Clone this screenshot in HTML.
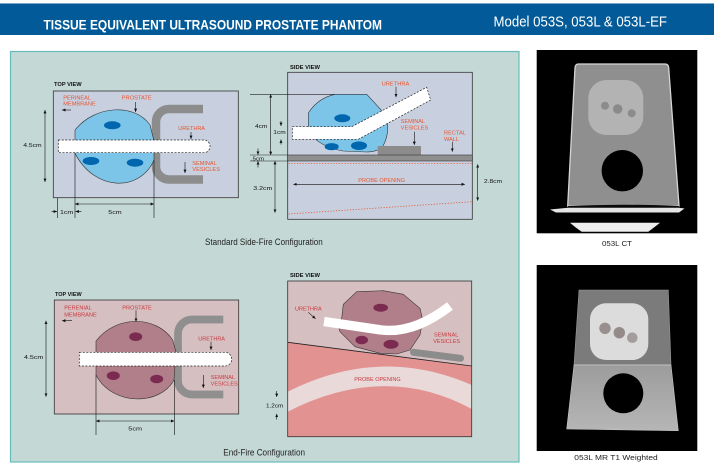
<!DOCTYPE html>
<html><head><meta charset="utf-8"><style>
html,body{margin:0;padding:0;background:#fff;}
svg{display:block;}
text{font-family:"Liberation Sans",Arial,sans-serif;}
</style></head><body>
<svg width="721" height="471" viewBox="0 0 721 471" xmlns="http://www.w3.org/2000/svg">
<defs>
<marker id="a" viewBox="0 0 6 6" refX="6" refY="3" markerWidth="3.4" markerHeight="3.4" orient="auto-start-reverse" markerUnits="userSpaceOnUse"><path d="M0,0.3 L6,3 L0,5.7 Z" fill="#111"/></marker>
<linearGradient id="mrg" x1="0" y1="0" x2="0" y2="1"><stop offset="0" stop-color="#9c9c9c"/><stop offset="1" stop-color="#b6b6b6"/></linearGradient>
</defs>
<rect width="721" height="471" fill="#fff"/>
<!-- header -->
<rect x="0" y="3" width="714" height="1" fill="#7da6c6"/>
<rect x="0" y="4" width="714" height="31" fill="#025b98"/>
<text x="43.5" y="29.3" font-size="14" font-weight="bold" fill="#fff" textLength="338.5" lengthAdjust="spacingAndGlyphs">TISSUE EQUIVALENT ULTRASOUND PROSTATE PHANTOM</text>
<text x="493.5" y="26.7" font-size="14.5" fill="#fff" textLength="173.5" lengthAdjust="spacingAndGlyphs">Model 053S, 053L &amp; 053L-EF</text>
<!-- panel -->
<rect x="10.5" y="51.5" width="508.5" height="410.5" fill="#c4d9d5" stroke="#66bcbc" stroke-width="1.2"/>

<!-- ===== TOP LEFT ===== -->
<text x="54" y="86.2" font-size="5.3" font-weight="bold" fill="#111" textLength="27.7" lengthAdjust="spacingAndGlyphs">TOP VIEW</text>
<rect x="53.3" y="91" width="185" height="106.7" fill="#c8d0e0" stroke="#333" stroke-width="0.8"/>
<path d="M203,109 H169 A13,13 0 0 0 156,122 V166.5 A13,13 0 0 0 169,179.5 H203" fill="none" stroke="#8c8c8c" stroke-width="8.5"/>
<path d="M75,130 C95,105 135,103 150,125 L154,141 L154,160 C140,192 95,192 75,153.3 Z" fill="#7cc5e8" stroke="#333" stroke-width="0.6"/>
<ellipse cx="112.3" cy="125.3" rx="8.3" ry="4" fill="#0066ad"/>
<ellipse cx="91" cy="161" rx="8.3" ry="4" fill="#0066ad"/>
<ellipse cx="135" cy="162.7" rx="8.3" ry="4" fill="#0066ad"/>
<path d="M58.3,140 H204 A6,6.35 0 0 1 204,152.7 H58.3 Z" fill="#fff" stroke="#222" stroke-width="0.7" stroke-dasharray="2,1.5"/>
<g fill="#e8542c" font-size="5.4">
<text x="63.3" y="99.3" textLength="27.7" lengthAdjust="spacingAndGlyphs">PERINEAL</text>
<text x="63.3" y="105.6" textLength="32.4" lengthAdjust="spacingAndGlyphs">MEMBRANE</text>
<text x="121.7" y="99.3" textLength="30" lengthAdjust="spacingAndGlyphs">PROSTATE</text>
<text x="178.3" y="130" textLength="26.7" lengthAdjust="spacingAndGlyphs">URETHRA</text>
<text x="192.3" y="165" textLength="24.4" lengthAdjust="spacingAndGlyphs">SEMINAL</text>
<text x="192.3" y="171.2" textLength="27.7" lengthAdjust="spacingAndGlyphs">VESICLES</text>
</g>
<g stroke="#111" stroke-width="0.6" fill="none">
<line x1="71" y1="110" x2="62" y2="110" marker-end="url(#a)"/>
<line x1="135.6" y1="102" x2="135.6" y2="112" marker-end="url(#a)"/>
<line x1="191" y1="132" x2="191" y2="139" marker-end="url(#a)"/>
<line x1="185" y1="162" x2="185" y2="173" marker-end="url(#a)"/>
<line x1="45" y1="110" x2="45" y2="182" marker-start="url(#a)" marker-end="url(#a)"/>
<line x1="57.3" y1="197.7" x2="57.3" y2="218"/>
<line x1="75" y1="153" x2="75" y2="218"/>
<line x1="154" y1="160" x2="154" y2="218"/>
<line x1="75" y1="204" x2="154" y2="204" marker-start="url(#a)" marker-end="url(#a)"/>
<line x1="51.5" y1="211.5" x2="57" y2="211.5" marker-end="url(#a)"/>
<line x1="81.5" y1="211.5" x2="75.5" y2="211.5" marker-end="url(#a)"/>
</g>
<g fill="#111" font-size="5.8">
<text x="23.3" y="147.2" textLength="18.4" lengthAdjust="spacingAndGlyphs">4.5cm</text>
<text x="60" y="213.8" textLength="13.3" lengthAdjust="spacingAndGlyphs">1cm</text>
<text x="108.3" y="213.8" textLength="13.4" lengthAdjust="spacingAndGlyphs">5cm</text>
</g>
<text x="205" y="245" font-size="9" fill="#222" textLength="117.7" lengthAdjust="spacingAndGlyphs">Standard Side-Fire Configuration</text>

<!-- ===== TOP RIGHT ===== -->
<text x="290" y="68.8" font-size="5.3" font-weight="bold" fill="#111" textLength="30" lengthAdjust="spacingAndGlyphs">SIDE VIEW</text>
<rect x="287.7" y="72.3" width="184.6" height="147" fill="#c8d0e0" stroke="#333" stroke-width="0.8"/>
<line x1="250" y1="94.3" x2="340" y2="94.3" stroke="#222" stroke-width="0.6"/>
<path d="M335,94.3 L366.7,94.3 L386.7,116 Q390,134 383,146 Q378,152 366,152 L343,151 Q320,147 308.3,132 L308.3,113 Q318,98 335,94.3 Z" fill="#7cc5e8" stroke="#333" stroke-width="0.6"/>
<ellipse cx="342.3" cy="118.3" rx="8" ry="4" fill="#0066ad"/>
<ellipse cx="331.7" cy="146.7" rx="7" ry="3.6" fill="#0066ad"/>
<ellipse cx="359" cy="145.7" rx="8" ry="4.3" fill="#0066ad"/>
<rect x="377.7" y="146" width="43.3" height="9" fill="#8c8c8c"/>
<polygon points="292.3,126.7 351.7,126.7 426.7,87.3 430.7,100 358.3,139.3 292.3,139.3" fill="#fff" stroke="#222" stroke-width="0.7" stroke-dasharray="2,1.5"/>
<rect x="287.7" y="155" width="184.6" height="6" fill="#8f8f8f" stroke="#333" stroke-width="0.6"/>
<g stroke="#222" stroke-width="0.6">
<line x1="250" y1="155" x2="288" y2="155"/>
<line x1="250" y1="161" x2="288" y2="161"/>
</g>
<line x1="288.5" y1="163.6" x2="472" y2="163.6" stroke="#e8542c" stroke-width="0.8" stroke-dasharray="1.2,1.6"/>
<line x1="288.5" y1="214" x2="472" y2="201.7" stroke="#e8542c" stroke-width="0.8" stroke-dasharray="1.2,1.6"/>
<g fill="#e8542c" font-size="5.4">
<text x="381.7" y="85.3" textLength="27.6" lengthAdjust="spacingAndGlyphs">URETHRA</text>
<text x="400.7" y="123" textLength="24.3" lengthAdjust="spacingAndGlyphs">SEMINAL</text>
<text x="400.7" y="129.7" textLength="27.6" lengthAdjust="spacingAndGlyphs">VESICLES</text>
<text x="444" y="134.7" textLength="22" lengthAdjust="spacingAndGlyphs">RECTAL</text>
<text x="444" y="140.9" textLength="15" lengthAdjust="spacingAndGlyphs">WALL</text>
<text x="358.3" y="182" textLength="46.7" lengthAdjust="spacingAndGlyphs">PROBE OPENING</text>
</g>
<g stroke="#111" stroke-width="0.6" fill="none">
<line x1="396" y1="86.7" x2="396" y2="97.3" marker-end="url(#a)"/>
<line x1="414.3" y1="131.7" x2="414.3" y2="145" marker-end="url(#a)"/>
<line x1="452.3" y1="141.7" x2="452.3" y2="151.7" marker-end="url(#a)"/>
<line x1="270.7" y1="94.3" x2="270.7" y2="155" marker-start="url(#a)" marker-end="url(#a)"/>
<line x1="281" y1="121" x2="281" y2="126" marker-end="url(#a)"/>
<line x1="281" y1="144.5" x2="281" y2="139.5" marker-end="url(#a)"/>
<line x1="258" y1="148.5" x2="258" y2="154.7" marker-end="url(#a)"/>
<line x1="258" y1="167.5" x2="258" y2="161.3" marker-end="url(#a)"/>
<line x1="275" y1="161" x2="275" y2="212.7" marker-start="url(#a)" marker-end="url(#a)"/>
<line x1="477.7" y1="164.3" x2="477.7" y2="200.7" marker-start="url(#a)" marker-end="url(#a)"/>
<line x1="293.3" y1="184.3" x2="465" y2="184.3" marker-start="url(#a)" marker-end="url(#a)"/>
</g>
<g fill="#111" font-size="5.8">
<text x="255" y="127.8" textLength="12.3" lengthAdjust="spacingAndGlyphs">4cm</text>
<text x="273.3" y="133.8" textLength="12.4" lengthAdjust="spacingAndGlyphs">1cm</text>
<text x="251" y="160.6" textLength="13" lengthAdjust="spacingAndGlyphs">.5cm</text>
<text x="253.3" y="190.2" textLength="19" lengthAdjust="spacingAndGlyphs">3.2cm</text>
<text x="484" y="182.8" textLength="18" lengthAdjust="spacingAndGlyphs">2.8cm</text>
</g>

<!-- ===== BOTTOM LEFT ===== -->
<text x="55" y="296" font-size="5.3" font-weight="bold" fill="#111" textLength="26.7" lengthAdjust="spacingAndGlyphs">TOP VIEW</text>
<rect x="54.3" y="300" width="184.4" height="114" fill="#d5bfc0" stroke="#333" stroke-width="0.8"/>
<path d="M223.3,319.5 H192 A14,14 0 0 0 178,333.5 V380.5 A14,14 0 0 0 192,394.5 H223.3" fill="none" stroke="#8f8f8f" stroke-width="7.7"/>
<path d="M96,341 C116,315 156,315 172.7,340 L176,352 L174,380 C160,406 112,406 96,375 Z" fill="#b07f8a" stroke="#333" stroke-width="0.6"/>
<ellipse cx="135.7" cy="336.7" rx="6.5" ry="4.3" fill="#7b2a50"/>
<ellipse cx="113.3" cy="375.7" rx="6.5" ry="4.3" fill="#7b2a50"/>
<ellipse cx="156.7" cy="379" rx="6.5" ry="4.3" fill="#7b2a50"/>
<path d="M79.3,352.3 H225 A6.7,6.85 0 0 1 225,366 H79.3 Z" fill="#fff" stroke="#222" stroke-width="0.7" stroke-dasharray="2,1.5"/>
<g fill="#c9393f" font-size="5.4">
<text x="64.3" y="309.3" textLength="27.4" lengthAdjust="spacingAndGlyphs">PERENIAL</text>
<text x="64.3" y="316.3" textLength="32.4" lengthAdjust="spacingAndGlyphs">MEMBRANE</text>
<text x="122.3" y="309.3" textLength="29.4" lengthAdjust="spacingAndGlyphs">PROSTATE</text>
<text x="198.3" y="340.3" textLength="26.7" lengthAdjust="spacingAndGlyphs">URETHRA</text>
<text x="210.7" y="379" textLength="24.3" lengthAdjust="spacingAndGlyphs">SEMINAL</text>
<text x="210.7" y="385.4" textLength="27" lengthAdjust="spacingAndGlyphs">VESICLES</text>
</g>
<g stroke="#111" stroke-width="0.6" fill="none">
<line x1="72" y1="320.7" x2="62" y2="320.7" marker-end="url(#a)"/>
<line x1="136" y1="310.5" x2="136" y2="321.7" marker-end="url(#a)"/>
<line x1="211" y1="341.7" x2="211" y2="350" marker-end="url(#a)"/>
<line x1="203.3" y1="375" x2="203.3" y2="388" marker-end="url(#a)"/>
<line x1="46" y1="320.7" x2="46" y2="396.7" marker-start="url(#a)" marker-end="url(#a)"/>
<line x1="96" y1="375" x2="96" y2="435"/>
<line x1="174.3" y1="380" x2="174.3" y2="435"/>
<line x1="96" y1="421" x2="174.3" y2="421" marker-start="url(#a)" marker-end="url(#a)"/>
</g>
<g fill="#111" font-size="5.8">
<text x="24" y="359.2" textLength="19.3" lengthAdjust="spacingAndGlyphs">4.5cm</text>
<text x="128.3" y="430.4" textLength="13.7" lengthAdjust="spacingAndGlyphs">5cm</text>
</g>
<text x="223.3" y="455.7" font-size="9" fill="#222" textLength="81.7" lengthAdjust="spacingAndGlyphs">End-Fire Configuration</text>

<!-- ===== BOTTOM RIGHT ===== -->
<text x="290" y="277" font-size="5.3" font-weight="bold" fill="#111" textLength="30" lengthAdjust="spacingAndGlyphs">SIDE VIEW</text>
<rect x="287.7" y="281" width="184" height="155.7" fill="#d5bfc0"/>
<path d="M287.7,342.3 L471.7,366 L471.7,436.7 L287.7,436.7 Z" fill="#e39292"/>
<path d="M287.7,391.7 Q380,345 471.7,385 L471.7,409 Q385,362 287.7,411.7 Z" fill="#e9d9d9"/>
<line x1="287.7" y1="342.3" x2="471.7" y2="366" stroke="#222" stroke-width="0.8"/>
<rect x="287.7" y="281" width="184" height="155.7" fill="none" stroke="#333" stroke-width="0.8"/>
<polygon points="343.3,304.3 356.7,291.7 383.3,290.7 403.3,294.3 420,308.3 422.7,320 420,335 410,350 396.7,354 380,353.3 355,346.7 340,331.7 338.3,326.7 341.7,318.3" fill="#b07f8a" stroke="#333" stroke-width="0.6" stroke-linejoin="round"/>
<ellipse cx="380.7" cy="307.7" rx="7.3" ry="4" fill="#7b2a50"/>
<ellipse cx="361.7" cy="340" rx="6.3" ry="4.3" fill="#7b2a50"/>
<ellipse cx="391" cy="344.3" rx="7.5" ry="4.5" fill="#7b2a50"/>
<line x1="413.5" y1="352.3" x2="460.5" y2="358.3" stroke="#8c8c8c" stroke-width="7" stroke-linecap="round"/>
<path d="M324,321.5 L380,329.8 Q413,334.5 450,306" fill="none" stroke="#fff" stroke-width="9.4"/>
<g fill="#c9393f" font-size="5.4">
<text x="295" y="310.3" textLength="26.7" lengthAdjust="spacingAndGlyphs">URETHRA</text>
<text x="434" y="336.3" textLength="24.3" lengthAdjust="spacingAndGlyphs">SEMINAL</text>
<text x="433.3" y="343" textLength="26.7" lengthAdjust="spacingAndGlyphs">VESICLES</text>
<text x="354.3" y="381" textLength="46.4" lengthAdjust="spacingAndGlyphs">PROBE OPENING</text>
</g>
<g stroke="#111" stroke-width="0.6" fill="none">
<line x1="308.3" y1="312.3" x2="315.5" y2="318.8" marker-end="url(#a)"/>
<line x1="276.7" y1="391" x2="276.7" y2="397" marker-end="url(#a)"/>
<line x1="276.7" y1="419.5" x2="276.7" y2="413.8" marker-end="url(#a)"/>
</g>
<text x="266" y="407.7" font-size="5.8" fill="#111" textLength="17.3" lengthAdjust="spacingAndGlyphs">1.2cm</text>

<!-- ===== CT IMAGE ===== -->
<rect x="536.7" y="50" width="160.6" height="183.3" fill="#000"/>
<path d="M578.5,64 H665 Q668.5,64 668.7,68 L679,206 H567.7 L575,68 Q575.3,64 578.5,64 Z" fill="#8f8f8f" stroke="#d6d6d6" stroke-width="1.3"/>
<rect x="588.3" y="80" width="55" height="55" rx="18" fill="#b3b3b3"/>
<circle cx="605" cy="105.7" r="4" fill="#8c8c8c"/>
<circle cx="617.7" cy="109" r="4.7" fill="#8a8a8a"/>
<circle cx="631.7" cy="113.3" r="4" fill="#8c8c8c"/>
<circle cx="622.3" cy="170.7" r="20.7" fill="#000"/>
<path d="M568,206 Q622,203.5 679,206 L679,208 H568 Z" fill="#0a0a0a"/>
<path d="M550,209.5 L568,207.8 H679 L684.5,208.5 L679,212.5 H556 Z" fill="#e4e4e4"/>
<path d="M570,222.7 H660 Q652,229 648.3,231.7 H581.7 Q576,228 570,222.7 Z" fill="#ededed"/>
<text x="602" y="246" font-size="7.6" fill="#222" textLength="30" lengthAdjust="spacingAndGlyphs">053L CT</text>

<!-- ===== MR IMAGE ===== -->
<rect x="536.7" y="265" width="160.6" height="186" fill="#000"/>
<path d="M579,290 H668.3 L671,365 H574 Z" fill="#7b7b7b" stroke="#999" stroke-width="0.6"/>
<path d="M574,365 H671 L678.3,430.7 L566.7,429 Z" fill="url(#mrg)" stroke="#c8c8c8" stroke-width="0.6"/>
<line x1="574" y1="365" x2="671" y2="365" stroke="#c2c2c2" stroke-width="0.9"/>
<rect x="590" y="303.3" width="58.3" height="56.7" rx="16" fill="#dcdcdc"/>
<circle cx="605" cy="328.3" r="5.7" fill="#9a8f8f"/>
<circle cx="619.3" cy="332.7" r="5.7" fill="#958a8a"/>
<circle cx="632.3" cy="337.7" r="5.3" fill="#a59d9d"/>
<circle cx="623.3" cy="393.3" r="20" fill="#000"/>
<text x="574.3" y="460" font-size="7.6" fill="#222" textLength="83.4" lengthAdjust="spacingAndGlyphs">053L MR T1 Weighted</text>
</svg>
</body></html>
